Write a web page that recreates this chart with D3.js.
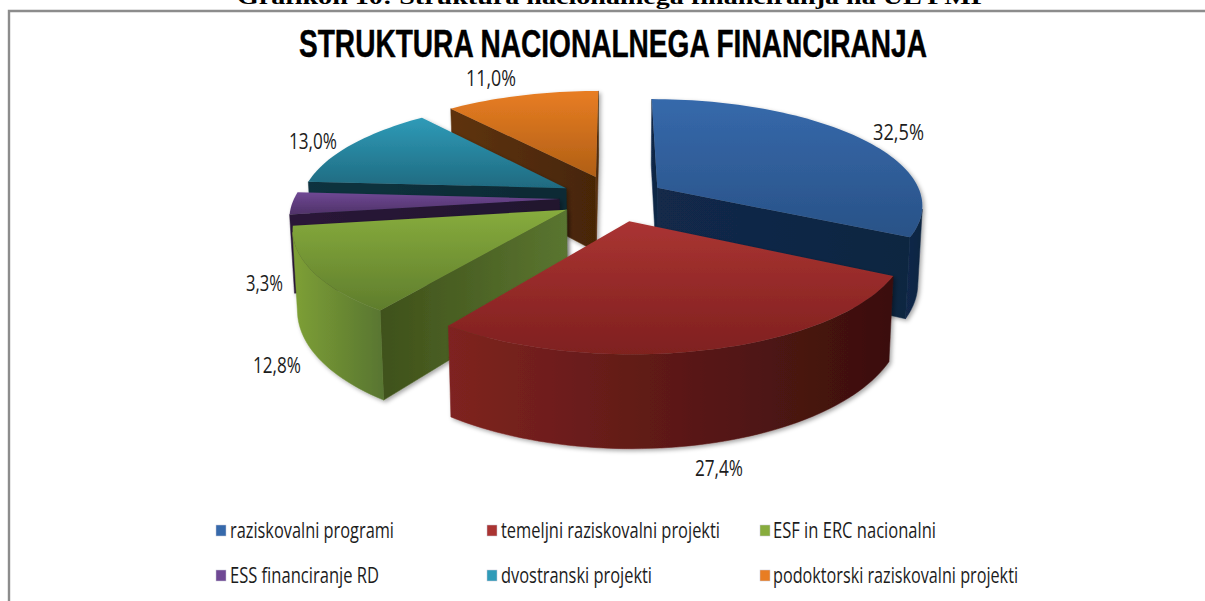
<!DOCTYPE html>
<html>
<head>
<meta charset="utf-8">
<script src="https://cdnjs.cloudflare.com/ajax/libs/d3/7.8.5/d3.min.js"></script>
<style>
html,body{margin:0;padding:0;background:#fff;overflow:hidden}
svg{display:block}
text{fill:#1c1c1c}
</style>
</head>
<body>
<svg id="chart" width="1205" height="601"></svg>
<script>
const categories = ["raziskovalni programi","temeljni raziskovalni projekti","ESF in ERC  nacionalni","ESS financiranje RD","dvostranski projekti","podoktorski raziskovalni projekti"];
const values = [32.5,27.4,12.8,3.3,13.0,11.0];
const valueLabels = ["32,5%","27,4%","12,8%","3,3%","13,0%","11,0%"];
const caption = "Grafikon 10: Struktura nacionalnega financiranja na UL PMF";
const title = "STRUKTURA NACIONALNEGA FINANCIRANJA";
const explodeBy = [0.19,0.22,0.21,0.21,0.21,0.22];
const topColors = [["#3669ab","#295287"],["#aa3432","#7f201f"],["#87ac3d","#5f7d2c"],["#6f4894","#4f3268"],["#2f9bb8","#1f6a80"],["#e87d23","#b05f15"]];
const arcColors = [["#12294a","#0f2541"],["#7f2320","#3a0f0d"],["#7ea036","#587530"],["#2a1938","#2a1938"],["#0f333f","#0f333f"],["#5f3310","#5f3310"]];
const edgeColors = [["#12294a","#0f2541"],["#5a1614","#3a0f0d"],["#3f511a","#5a7530"],["#2a1938","#21142e"],["#0f333f","#0b2a34"],["#5f3310","#472606"]];
const paintOrder = [5,4,3,2,0,1];
const labelPos = [[873,924,132],[695,743,468],[253,301,365],[246,283,283],[289,337,141],[466,516,78]];
const legendPos = [[216,230,394,531],[487,501,720,531],[760,773,936,531],[216,230,379,576],[487,501,652,576],[760,773,1018,576]];

const svg = d3.select("#chart");
const defs = svg.append("defs");
const f = defs.append("filter").attr("id","sh").attr("x","-10%").attr("y","-10%").attr("width","120%").attr("height","120%");
f.append("feDropShadow").attr("dx",2).attr("dy",2).attr("stdDeviation",2).attr("flood-color","#000").attr("flood-opacity",0.35);

// frame
svg.append("path").attr("d",d3.line()([[9,601],[9,11],[1205,11]])).attr("fill","none").attr("stroke","#8c8c8c").attr("stroke-width",2.4);
svg.append("text").text(caption).attr("x",237).attr("y",4).attr("textLength",751).attr("lengthAdjust","spacingAndGlyphs")
  .style("font","bold 21px 'Liberation Serif'").style("fill","#000");
svg.append("text").text(title).attr("x",299).attr("y",57).attr("textLength",628).attr("lengthAdjust","spacingAndGlyphs")
  .style("font","bold 38px 'Liberation Sans'").style("fill","#000").style("stroke","#000").style("stroke-width",0.4);

// projection
const cx=615, cy=198, R=265, S=105, H=77, p=0.152, shrink=0.985;
const sx = d3.scaleLinear().domain([-1,1]).range([cx-R,cx+R]);
const sy = d3.scaleLinear().domain([-1,1]).range([cy-S,cy+S]);
const persp = v => 1/(1-p*v);
const top3d = ([u,v]) => { const k=persp(v); return [sx(u*k), sy(v*k)]; };
const bot3d = ([u,v]) => { const k=persp(v); return [sx(u*k*shrink), sy(v*k)+H*k]; };
const line = d3.line();

const pie = d3.pie().sort(null).value(d=>d)(values);
const arcsWorld = pie.map((s,i)=>{
  const m=(s.startAngle+s.endAngle)/2, ox=explodeBy[i]*Math.sin(m), oy=-explodeBy[i]*Math.cos(m);
  const n=Math.max(4,Math.ceil((s.endAngle-s.startAngle)/0.03));
  const arc=d3.range(n+1).map(j=>{const a=s.startAngle+(s.endAngle-s.startAngle)*j/n;return [ox+Math.sin(a),oy-Math.cos(a)];});
  return {apex:[ox,oy],arc};
});
function grad(id,c,vertical,ext){
  const g=defs.append("linearGradient").attr("id",id).attr("gradientUnits","userSpaceOnUse");
  if(vertical) g.attr("x1",0).attr("x2",0).attr("y1",ext[0]).attr("y2",ext[1]);
  else g.attr("y1",0).attr("y2",0).attr("x1",ext[0]).attr("x2",ext[1]);
  g.append("stop").attr("offset",0).attr("stop-color",c[0]);
  g.append("stop").attr("offset",1).attr("stop-color",c[1]);
  return `url(#${id})`;
}
const quad = (A,B) => [top3d(A),top3d(B),bot3d(B),bot3d(A)];
const facing = (A,B) => d3.polygonArea(quad(A,B))>0;
function edgeWall(g,A,B,id,colors){
  if(!facing(A,B)) return;
  const q=quad(A,B), fill=grad(id,colors,false,d3.extent(q,d=>d[0]));
  g.append("path").attr("d",line(q)+"Z").attr("fill",fill).attr("stroke",fill).attr("stroke-width",0.5);
}
paintOrder.forEach(i=>{
  const w=arcsWorld[i], g=svg.append("g").attr("class","slice").attr("filter","url(#sh)");
  const tp=[w.apex,...w.arc].map(top3d);
  edgeWall(g,w.apex,w.arc[0],"es"+i,edgeColors[i]);
  edgeWall(g,w.arc[w.arc.length-1],w.apex,"ee"+i,edgeColors[i]);
  // contiguous runs of visible outer-wall segments become one shape
  let run=[];
  const flush=()=>{
    if(run.length>1){
      const poly=[...run.map(top3d),...run.slice().reverse().map(bot3d)];
      const fill=grad("a"+i+"_"+run.length,arcColors[i],false,d3.extent(poly,d=>d[0]));
      g.append("path").attr("d",line(poly)+"Z").attr("fill",fill).attr("stroke",fill).attr("stroke-width",0.5);
    }
    run=[];
  };
  d3.pairs(w.arc).forEach(([a,b])=>{
    if(facing(a,b)){ if(!run.length) run.push(a); run.push(b); } else flush();
  });
  flush();
  g.append("path").attr("d",line(tp)+"Z").attr("fill",grad("t"+i,topColors[i],true,d3.extent(tp,d=>d[1])));
});

// value labels
valueLabels.forEach((t,i)=>{
  const [x0,x1,y]=labelPos[i];
  svg.append("text").text(t).attr("x",x0).attr("y",y+8).attr("textLength",x1-x0).attr("lengthAdjust","spacingAndGlyphs")
    .style("font","21px 'Open Sans'");
});
// legend
categories.forEach((t,i)=>{
  const [sw,x0,x1,y]=legendPos[i];
  svg.append("rect").attr("x",sw).attr("y",y-6).attr("width",10).attr("height",11)
    .attr("fill",topColors[i][0]).attr("stroke","#c8c8d8").attr("stroke-width",0.5);
  svg.append("text").text(t).attr("x",x0).attr("y",y+7).attr("textLength",x1-x0).attr("lengthAdjust","spacingAndGlyphs")
    .style("font","21px 'Open Sans'");
});
</script>
</body>
</html>
